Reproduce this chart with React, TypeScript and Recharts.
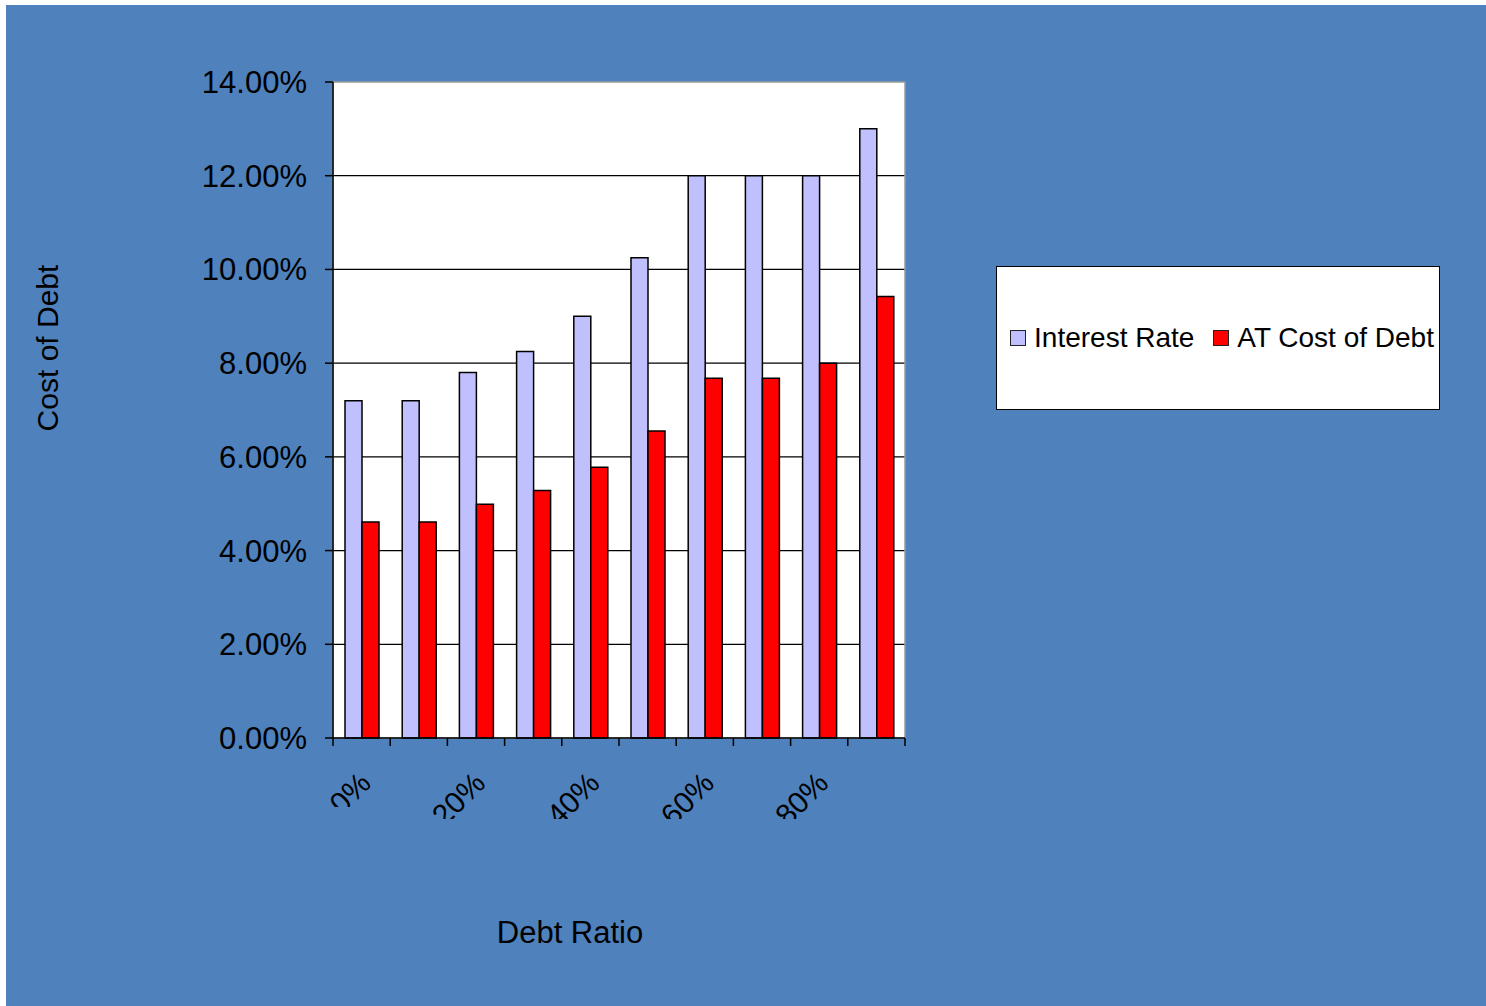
import React from 'react';
import { BarChart, Bar, XAxis, YAxis, CartesianGrid, Legend, ReferenceArea, Label } from 'recharts';

const categories = ['0%', '10%', '20%', '30%', '40%', '50%', '60%', '70%', '80%', '90%'];
const interestRate = [7.2, 7.2, 7.8, 8.25, 9.0, 10.25, 12.0, 12.0, 12.0, 13.0];
const atCostOfDebt = [4.61, 4.61, 4.99, 5.28, 5.78, 6.55, 7.68, 7.68, 8.0, 9.42];
const seriesNames = ['Interest Rate', 'AT Cost of Debt'];
const yTicks = [0, 2, 4, 6, 8, 10, 12, 14];
const gridValues = [2, 4, 6, 8, 10, 12];

const FONT = '"Liberation Sans", Arial, Helvetica, sans-serif';
const W = 1480;
const H = 1001;
const PLOT_LEFT = 327;
const PLOT_TOP = 77;
const PLOT_RIGHT = 899;
const PLOT_BOTTOM = 733;
const HALF_BAND = (PLOT_RIGHT - PLOT_LEFT) / categories.length / 2;

const data = categories.map((name, i) => ({
  name,
  interest: interestRate[i],
  atCost: atCostOfDebt[i],
}));

const XTick = (props: any) => {
  const { x, y, index, payload } = props;
  const showLabel = index % 2 === 0;
  const id = `xlabel-clip-${index}`;
  const px = x + 11;
  const py = y + 47;
  // excel cuts the rotated labels off at the bottom
  const clipH = String(payload.value).length < 3 ? 69 : 81;
  return (
    <g>
      <line x1={x - HALF_BAND} y1={y} x2={x - HALF_BAND} y2={y + 8} stroke="#000" strokeWidth={1.5} />
      {index === categories.length - 1 && (
        <line x1={x + HALF_BAND} y1={y} x2={x + HALF_BAND} y2={y + 8} stroke="#000" strokeWidth={1.5} />
      )}
      {showLabel && (
        <>
          <clipPath id={id}>
            <rect x={x - 200} y={y} width={400} height={clipH} />
          </clipPath>
          <g clipPath={`url(#${id})`}>
            <text
              x={px}
              y={py}
              transform={`rotate(-45 ${px} ${py})`}
              textAnchor="end"
              fontSize={30}
              fontFamily={FONT}
              fill="#000"
            >
              {payload.value}
            </text>
          </g>
        </>
      )}
    </g>
  );
};

const LegendBox = (props: any) => {
  const items = [...(props.payload || [])].sort(
    (a: any, b: any) => seriesNames.indexOf(a.value) - seriesNames.indexOf(b.value)
  );
  return (
    <div
      style={{
        boxSizing: 'border-box',
        width: '100%',
        height: '100%',
        background: '#fff',
        border: '1.5px solid #000',
        display: 'flex',
        alignItems: 'center',
        justifyContent: 'center',
        paddingLeft: 8,
        fontFamily: FONT,
        fontSize: 28,
        color: '#000',
      }}
    >
      {items.map((item: any, i: number) => (
        <div key={i} style={{ display: 'flex', alignItems: 'center', marginLeft: i === 0 ? 0 : 19 }}>
          <span
            style={{
              display: 'inline-block',
              width: 14,
              height: 14,
              background: item.color,
              border: '1px solid #222',
              marginRight: 8,
            }}
          />
          <span>{item.value}</span>
        </div>
      ))}
    </div>
  );
};

export default function App() {
  return (
    <div style={{ position: 'absolute', left: 6, top: 5, width: W, height: H, background: '#4F81BD' }}>
      <BarChart
        width={W}
        height={H}
        data={data}
        margin={{ top: PLOT_TOP, right: W - PLOT_RIGHT, left: 0, bottom: 0 }}
        barCategoryGap={12}
        barGap={0}
      >
        <CartesianGrid
          vertical={false}
          horizontalValues={gridValues}
          stroke="#000"
          strokeWidth={1.2}
          fill="#fff"
          fillOpacity={1}
        />
        <ReferenceArea y1={0} y2={14} fill="none" stroke="#9a9a9a" strokeWidth={1.5} />
        <XAxis
          dataKey="name"
          height={H - PLOT_BOTTOM}
          interval={0}
          tickLine={false}
          tickSize={0}
          tickMargin={0}
          axisLine={{ stroke: '#000', strokeWidth: 1.5 }}
          tick={<XTick />}
        >
          <Label
            content={(p: any) => {
              const vb = p.viewBox || { x: PLOT_LEFT, y: PLOT_BOTTOM, width: PLOT_RIGHT - PLOT_LEFT };
              return (
                <text
                  x={vb.x + vb.width / 2 - 49}
                  y={927}
                  textAnchor="middle"
                  dominantBaseline="central"
                  fontSize={31}
                  fontFamily={FONT}
                  fill="#000"
                >
                  Debt Ratio
                </text>
              );
            }}
          />
        </XAxis>
        <YAxis
          width={PLOT_LEFT}
          domain={[0, 14]}
          ticks={yTicks}
          interval={0}
          tickSize={8}
          tickMargin={18}
          tickLine={{ stroke: '#000', strokeWidth: 1.5 }}
          axisLine={{ stroke: '#000', strokeWidth: 1.5 }}
          tick={{ fill: '#000', fontSize: 31, fontFamily: FONT }}
          tickFormatter={(v: number) => `${v.toFixed(2)}%`}
        >
          <Label
            content={() => (
              <text
                x={41}
                y={343}
                transform="rotate(-90 41 343)"
                textAnchor="middle"
                dominantBaseline="central"
                fontSize={30}
                fontFamily={FONT}
                fill="#000"
              >
                Cost of Debt
              </text>
            )}
          />
        </YAxis>
        <Legend
          layout="horizontal"
          align="center"
          verticalAlign="middle"
          content={<LegendBox />}
          wrapperStyle={{ position: 'absolute', left: 990, top: 261, width: 444, height: 144 }}
        />
        <Bar
          dataKey="interest"
          name={seriesNames[0]}
          fill="#C0C0FF"
          stroke="#000"
          strokeWidth={1.5}
          isAnimationActive={false}
        />
        <Bar
          dataKey="atCost"
          name={seriesNames[1]}
          fill="#FF0000"
          stroke="#000"
          strokeWidth={1.5}
          isAnimationActive={false}
        />
      </BarChart>
    </div>
  );
}
